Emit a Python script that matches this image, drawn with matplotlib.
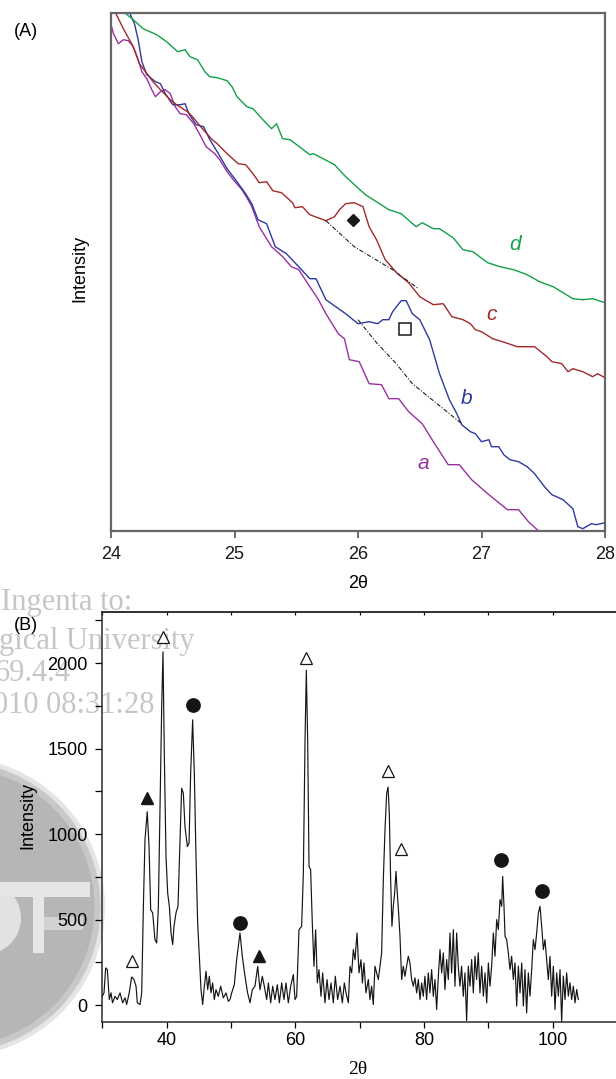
import numpy as np
import matplotlib.pyplot as plt
from matplotlib.patches import Ellipse, Rectangle
from matplotlib.ticker import MultipleLocator, NullFormatter

plt.rcParams['font.family'] = ['Liberation Sans', 'DejaVu Sans']
plt.rcParams['font.size'] = 13
plt.rcParams['lines.solid_joinstyle'] = 'round'

# ---- (A) enlarged 24-28 deg region, intensity in arbitrary units ----
tt_d = [24.11, 24.18, 24.26, 24.37, 24.45, 24.54, 24.60, 24.64, 24.70, 24.76, 24.80,
        24.86, 24.94, 24.98, 25.02, 25.10, 25.15, 25.23, 25.30, 25.34, 25.39, 25.45,
        25.61, 25.64, 25.81, 25.90, 26.06, 26.25, 26.35, 26.47, 26.52, 26.61, 26.66,
        26.77, 26.85, 26.93, 27.05, 27.15, 27.26, 27.37, 27.47, 27.58, 27.66, 27.74,
        27.82, 27.90, 28.00]
int_d = [518, 511, 502, 496, 489, 479, 481, 474, 471, 459, 454,
         453, 450, 444, 434, 424, 422, 411, 402, 407, 392, 391,
         376, 377, 366, 354, 336, 321, 317, 304, 308, 302, 302,
         293, 281, 279, 268, 264, 261, 256, 249, 244, 238, 232,
         231, 232, 228]

tt_c = [24.04, 24.10, 24.18, 24.23, 24.28, 24.34, 24.40, 24.48, 24.53, 24.62, 24.66,
        24.74, 24.82, 24.86, 24.94, 25.03, 25.09, 25.15, 25.20, 25.26, 25.31, 25.38,
        25.47, 25.49, 25.55, 25.61, 25.74, 25.81, 25.85, 25.90, 25.97, 26.04, 26.09,
        26.15, 26.22, 26.32, 26.41, 26.50, 26.61, 26.69, 26.76, 26.85, 26.91, 26.95,
        27.00, 27.09, 27.17, 27.29, 27.43, 27.53, 27.57, 27.65, 27.70, 27.74, 27.82,
        27.90, 27.94, 28.00]
int_c = [517, 502, 484, 467, 459, 449, 441, 431, 426, 419, 414,
         402, 391, 387, 377, 367, 366, 357, 348, 349, 340, 338,
         328, 323, 324, 316, 310, 314, 321, 327, 328, 324, 304,
         291, 271, 257, 248, 234, 226, 227, 214, 211, 207, 201,
         199, 192, 189, 184, 184, 174, 169, 167, 159, 162, 159,
         154, 157, 153]

tt_b = [24.15, 24.19, 24.22, 24.25, 24.29, 24.36, 24.40, 24.44, 24.50, 24.56, 24.60,
        24.63, 24.69, 24.75, 24.80, 24.86, 24.94, 25.02, 25.09, 25.14, 25.19, 25.26,
        25.33, 25.42, 25.52, 25.61, 25.66, 25.74, 25.90, 26.00, 26.09, 26.16, 26.20,
        26.25, 26.28, 26.35, 26.39, 26.44, 26.50, 26.58, 26.66, 26.74, 26.80, 26.84,
        26.91, 26.95, 27.00, 27.06, 27.08, 27.14, 27.18, 27.23, 27.30, 27.37, 27.43,
        27.51, 27.57, 27.66, 27.74, 27.78, 27.82, 27.89, 27.93, 28.00]
int_b = [518, 507, 491, 469, 456, 449, 447, 437, 426, 426, 427,
         417, 406, 404, 391, 379, 362, 349, 337, 327, 311, 307,
         284, 277, 264, 252, 252, 231, 217, 207, 209, 207, 211,
         211, 219, 230, 230, 217, 211, 191, 157, 131, 117, 106,
         99, 97, 89, 91, 84, 84, 76, 71, 69, 64, 57,
         44, 36, 31, 22, 4, 2, 7, 6, 8]

tt_a = [24.00, 24.02, 24.06, 24.10, 24.14, 24.18, 24.22, 24.25, 24.29, 24.33, 24.36,
        24.40, 24.44, 24.48, 24.52, 24.56, 24.61, 24.67, 24.72, 24.77, 24.84, 24.88,
        24.94, 24.99, 25.06, 25.11, 25.14, 25.20, 25.30, 25.39, 25.46, 25.52, 25.61,
        25.68, 25.74, 25.84, 25.89, 25.93, 26.01, 26.09, 26.19, 26.25, 26.33, 26.41,
        26.52, 26.60, 26.73, 26.82, 26.92, 27.05, 27.21, 27.30, 27.38, 27.46]
int_a = [506, 497, 487, 491, 490, 484, 471, 459, 452, 441, 434,
         439, 441, 437, 424, 417, 416, 407, 396, 384, 377, 371,
         359, 351, 341, 331, 324, 304, 284, 274, 264, 261, 244,
         231, 217, 197, 192, 171, 169, 147, 146, 132, 132, 119,
         107, 91, 66, 66, 51, 37, 21, 21, 9, 0]

# background lines under the two extra reflections
base_c_tt = [25.74, 25.97, 26.28, 26.49]
base_c_int = [310, 284, 261, 242]
base_b_tt = [26.00, 26.15, 26.31, 26.44, 26.60, 26.84]
base_b_int = [211, 188, 167, 147, 131, 107]

curve_names = ['a', 'b', 'c', 'd']
curve_colors = ['#9a30a0', '#2e3a9c', '#a2292b', '#12a04a']
label_tt = [26.53, 26.88, 27.08, 27.27]
label_int = [67, 132, 216, 286]

# ---- (B) full pattern ----
tt_full = [30.0, 30.28, 30.54, 30.8, 31.1, 31.37, 31.6, 32.0, 32.35, 32.77, 33.18,
           33.55, 33.8, 34.2, 34.58, 34.94, 35.26, 35.46, 35.88, 36.14, 36.4, 36.65,
           37.0, 37.28, 37.54, 37.85, 38.2, 38.47, 38.73, 38.99, 39.25, 39.45, 39.66,
           39.92, 40.18, 40.44, 40.7, 40.96, 41.16, 41.47, 41.78, 42.1, 42.35, 42.61,
           42.87, 43.24, 43.5, 43.75, 44.06, 44.32, 44.58, 44.84, 45.1, 45.36, 45.62,
           45.88, 46.14, 46.4, 46.65, 46.91, 47.17, 47.43, 47.69, 48.05, 48.42, 48.83,
           49.25, 49.6, 49.87, 50.13, 50.54, 50.9, 51.42, 51.78, 52.2, 52.6, 52.98,
           53.34, 53.75, 54.17, 54.53, 54.89, 55.2, 55.57, 55.83, 56.19, 56.5, 56.86,
           57.22, 57.54, 57.9, 58.26, 58.57, 58.93, 59.3, 59.71, 59.97, 60.23, 60.59,
           61.0, 61.27, 61.53, 61.73, 61.94, 62.15, 62.4, 62.66, 62.92, 63.18, 63.44,
           63.7, 64.01, 64.27, 64.63, 64.95, 65.26, 65.57, 65.93, 66.24, 66.6, 66.97,
           67.33, 67.64, 67.9, 68.26, 68.52, 68.78, 69.04, 69.3, 69.61, 69.92, 70.23,
           70.45, 70.69, 71.0, 71.37, 71.62, 71.88, 72.14, 72.4, 72.66, 72.92, 73.18,
           73.44, 73.7, 73.96, 74.22, 74.44, 74.63, 74.84, 75.04, 75.25, 75.46, 75.67,
           75.87, 76.08, 76.29, 76.55, 76.8, 77.06, 77.32, 77.58, 77.84, 78.1, 78.36,
           78.62, 78.88, 79.14, 79.4, 79.66, 79.91, 80.17, 80.43, 80.69, 80.95, 81.21,
           81.47, 81.73, 81.99, 82.25, 82.51, 82.77, 83.03, 83.28, 83.54, 83.8, 84.06,
           84.32, 84.58, 84.84, 85.1, 85.35, 85.61, 85.87, 86.13, 86.39, 86.65, 86.91,
           87.17, 87.43, 87.69, 87.95, 88.2, 88.46, 88.72, 88.99, 89.25, 89.51, 89.77,
           90.03, 90.28, 90.54, 90.8, 91.06, 91.32, 91.58, 91.84, 92.1, 92.25, 92.46,
           92.62, 92.88, 93.13, 93.39, 93.65, 93.91, 94.17, 94.43, 94.69, 94.95, 95.21,
           95.47, 95.72, 95.98, 96.24, 96.5, 96.76, 97.02, 97.28, 97.54, 97.8, 98.06,
           98.32, 98.58, 98.83, 99.09, 99.35, 99.61, 99.87, 100.13, 100.39, 100.65, 100.91,
           101.17, 101.42, 101.68, 101.94, 102.2, 102.46, 102.72, 102.98, 103.24, 103.5, 103.76,
           104.01]
int_full = [50, 72, 218, 208, 33, 72, 14, 52, 33, 72, 14,
            43, 4, 72, 165, 150, 111, 14, 4, 72, 577, 966,
            1131, 927, 558, 539, 383, 364, 577, 1161, 1744, 2065, 1452,
            869, 655, 577, 422, 354, 461, 539, 577, 966, 1268, 1239,
            1044, 927, 947, 1355, 1668, 1355, 869, 480, 286, 91, 4,
            111, 198, 91, 169, 72, 130, 33, 91, 52, 111, 43,
            72, 23, 33, 72, 120, 266, 422, 286, 169, 72, 14,
            91, 111, 227, 91, 169, 111, 33, 130, 14, 111, 33,
            120, 14, 130, 33, 130, 14, 111, 179, 33, 52, 441,
            461, 772, 1549, 1958, 1549, 811, 792, 480, 227, 441, 130,
            208, 52, 189, 14, 150, 33, 130, 14, 169, 33, 111,
            14, 130, 72, 14, 227, 189, 325, 266, 422, 189, 266,
            130, 247, 72, 150, 33, 111, 4, 228, 189, 150, 228,
            306, 733, 1025, 1239, 1275, 1122, 733, 461, 578, 656, 782,
            656, 539, 403, 150, 228, 169, 228, 286, 247, 150, 111,
            160, 72, 150, 33, 130, 52, 169, 33, 189, 72, 208,
            52, 150, -25, 169, 325, 189, 306, 91, 267, 150, 422,
            189, 442, 111, 422, 228, 111, 228, 52, 189, -90, 228,
            111, 267, 72, 286, 150, 306, 72, 228, 53, 189, 14,
            247, 111, 228, 422, 286, 500, 442, 617, 578, 753, 578,
            403, 383, 306, 208, 286, 150, 247, -5, 228, 72, 247,
            -5, 208, -45, 189, 53, 208, 383, 325, 422, 539, 578,
            461, 325, 383, 266, 150, 286, 53, 228, -25, 189, 53,
            208, -95, 170, 33, 189, 53, 131, 33, 111, 14, 92,
            33]

# phase markers
open_tri_tt = [34.7, 39.45, 61.7, 74.5, 76.45]
open_tri_int = [258, 2150, 2032, 1369, 915]
full_tri_tt = [36.95, 54.3]
full_tri_int = [1210, 290]
circle_tt = [44.08, 51.4, 92.0, 98.4]
circle_int = [1752, 480, 850, 669]

W, H = 616, 1079
fig = plt.figure(figsize=(W / 100, H / 100), dpi=100)


def px_box(left, top, right, bottom):
    return [left / W, 1 - bottom / H, (right - left) / W, (bottom - top) / H]


def fx(x):
    return x / W


def fy(y):
    return 1 - y / H


# grey watermark behind everything
for scale, alpha in [(1.0, 0.35), (0.97, 0.6), (0.93, 1.0)]:
    fig.add_artist(Ellipse((fx(-45), fy(907)), 2 * 150 * scale / W, 2 * 150 * scale / H,
                           transform=fig.transFigure, color='#b6b6b6', alpha=alpha,
                           lw=0, zorder=-5))
fig.add_artist(Ellipse((fx(-14), fy(918)), 70 / W, 72 / H, transform=fig.transFigure,
                       color='#e2e2e2', lw=0, zorder=-4))
for l, t, r, b, c in [(0, 882, 90, 897, '#e6e6e6'), (33, 882, 44, 953, '#e6e6e6'),
                      (44, 917, 83, 930, '#d2d2d2')]:
    fig.add_artist(Rectangle((fx(l), fy(b)), (r - l) / W, (b - t) / H,
                             transform=fig.transFigure, color=c, lw=0, zorder=-4))
for s, x, y in [('Ingenta to:', 1, 610), ('gical University', -1, 649),
                ('69.4.4', -5, 681), ('010 08:31:28', -7, 713)]:
    fig.text(fx(x), fy(y), s, family=['Liberation Serif', 'DejaVu Serif'], fontsize=22,
             color='#c6c6c6', ha='left', va='baseline', zorder=-3)

# ---- panel A ----
ax1 = fig.add_axes(px_box(111, 12.7, 605, 530.7))
ax1.patch.set_alpha(0)
for tt, it, col in zip([tt_a, tt_b, tt_c, tt_d], [int_a, int_b, int_c, int_d], curve_colors):
    ax1.plot(tt, it, color=col, lw=1.0)
for tt, it in [(base_c_tt, base_c_int), (base_b_tt, base_b_int)]:
    ax1.plot(tt, it, color='#222222', lw=0.8, dashes=(4, 1.5, 1, 1.5))
for name, col, x, y in zip(curve_names, curve_colors, label_tt, label_int):
    ax1.text(x, y, name, color=col, fontsize=15, style='italic', ha='center', va='center')
ax1.plot([25.96], [311], marker='D', ms=6.5, color='#1a1a1a', ls='none')
ax1.plot([26.38], [202], marker='s', ms=8.5, mfc='white', mec='#1a1a1a', mew=1.1, ls='none')
ax1.set_xlim(24, 28)
ax1.set_ylim(0, 518)
ax1.set_xticks([24, 25, 26, 27, 28])
ax1.set_yticks([])
ax1.tick_params(axis='x', direction='out', length=5, width=1.1, color='#444444',
                labelsize=13, pad=6, labelcolor='#1a1a1a')
for sp in ax1.spines.values():
    sp.set_color('#666666')
    sp.set_linewidth(1.6)
fig.text(fx(79.5), fy(268), 'Intensity', rotation=90, ha='center', va='center', fontsize=13)
fig.text(fx(358), fy(583), '2θ', ha='center', va='center', fontsize=13)
fig.text(fx(25.5), fy(31), '(A)', ha='center', va='center', fontsize=13)

# ---- panel B ----
ax2 = fig.add_axes(px_box(102.2, 611.7, 616, 1022.3))
ax2.patch.set_alpha(0)
ax2.plot(tt_full, int_full, color='#151515', lw=0.85)
ax2.plot(open_tri_tt, open_tri_int, marker='^', ms=9.3, mfc='white', mec='#151515',
         mew=0.9, ls='none')
ax2.plot(full_tri_tt, full_tri_int, marker='^', ms=9.3, color='#151515', ls='none')
ax2.plot(circle_tt, circle_int, marker='o', ms=9.6, color='#151515', ls='none')
ax2.set_xlim(30, 109.87)
ax2.set_ylim(-100, 2300)
ax2.xaxis.set_major_locator(MultipleLocator(20))
ax2.xaxis.set_minor_locator(MultipleLocator(10))
ax2.yaxis.set_major_locator(MultipleLocator(500))
ax2.yaxis.set_minor_locator(MultipleLocator(250))
ax2.set_yticks([0, 500, 1000, 1500, 2000])
ax2.tick_params(axis='x', which='both', direction='out', length=4.3, width=0.9,
                labelsize=13, pad=2.5)
ax2.tick_params(axis='y', which='both', direction='out', length=5.4, width=0.9,
                labelsize=13, pad=5)
ax2.spines['right'].set_visible(False)
for sp in ['left', 'bottom', 'top']:
    ax2.spines[sp].set_linewidth(1.1)
    ax2.spines[sp].set_color('#2a2a2a')
top = ax2.secondary_xaxis('top')
top.xaxis.set_major_locator(MultipleLocator(10))
top.xaxis.set_major_formatter(NullFormatter())
top.tick_params(direction='in', length=2.2, width=0.9)
top.spines['top'].set_linewidth(1.1)
top.spines['top'].set_color('#2a2a2a')
fig.text(fx(28), fy(815), 'Intensity', rotation=90, ha='center', va='center', fontsize=13)
fig.text(fx(358), fy(1070), '2θ', ha='center', va='center', fontsize=14,
         family=['Liberation Serif', 'DejaVu Serif'])
fig.text(fx(25.5), fy(626), '(B)', ha='center', va='center', fontsize=13)

fig.savefig('out.png', dpi=100)
